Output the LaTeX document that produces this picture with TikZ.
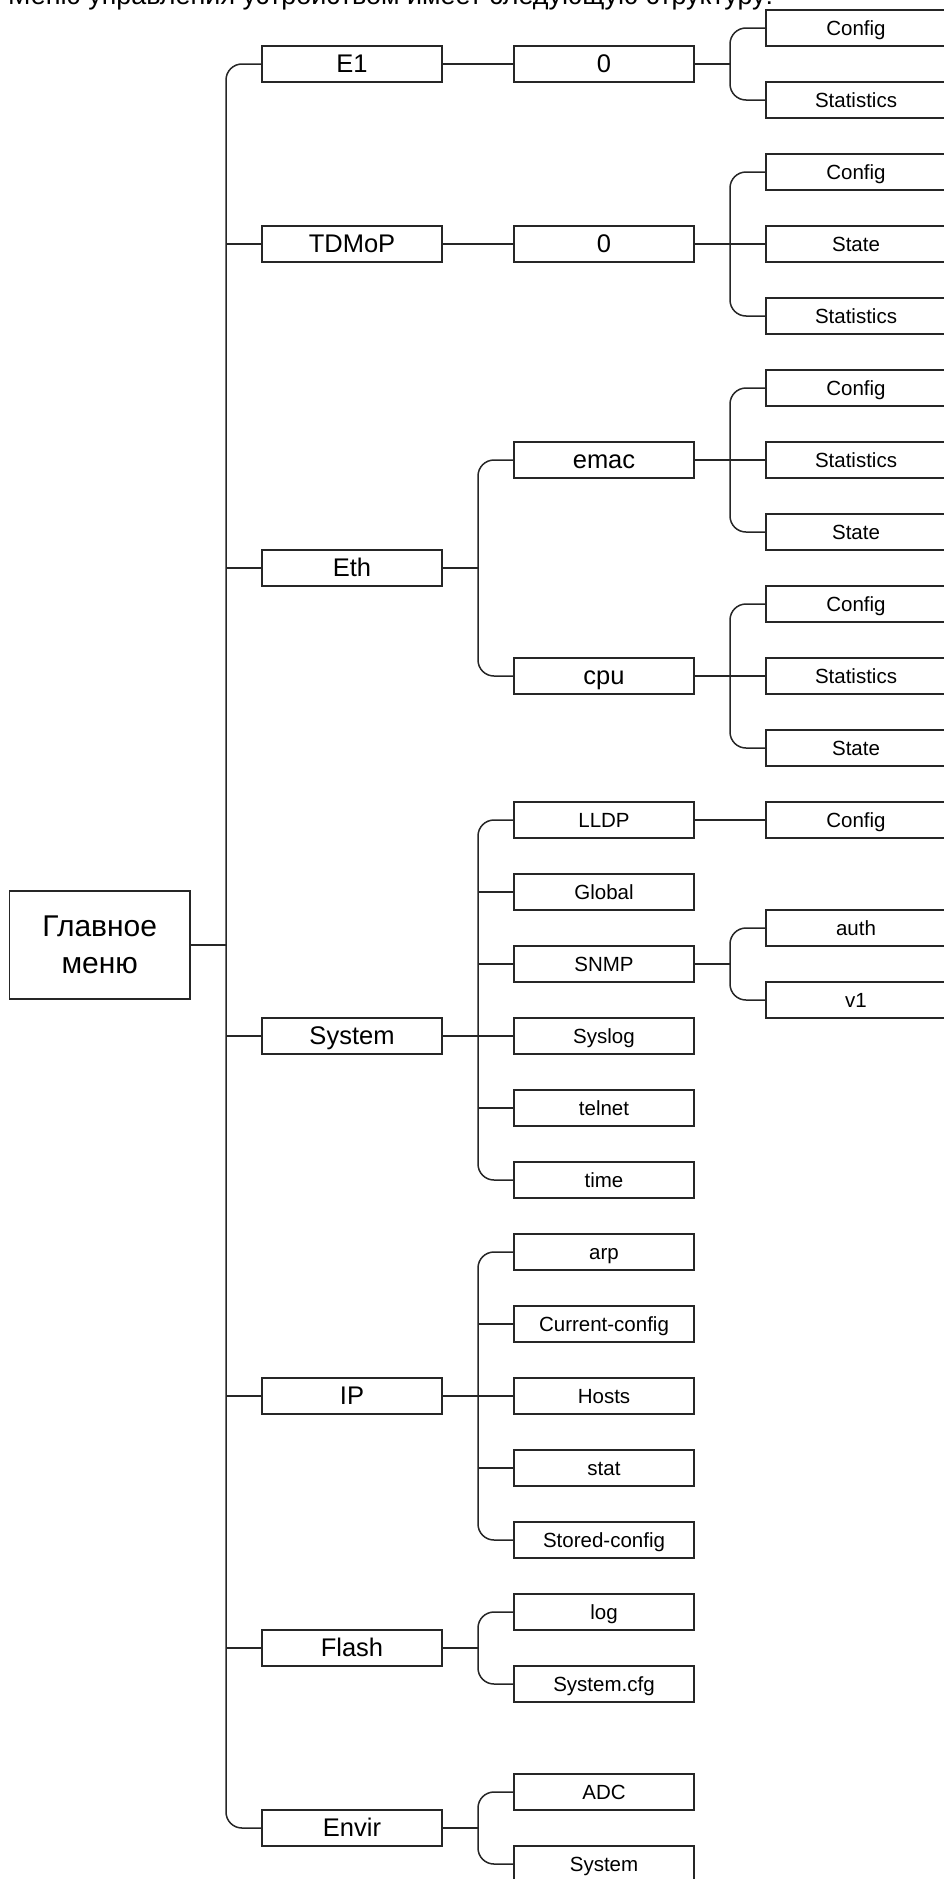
\documentclass[tikz,border=0pt]{standalone}
\usepackage{fontspec}
\setmainfont{Liberation Sans}
\begin{document}
\begin{tikzpicture}[x=1pt,y=-1pt,
  bx/.style={draw=black!85, line width=1.7pt, minimum width=180pt, minimum height=36pt, inner sep=0pt, outer sep=0pt},
  big/.style={bx, font=\fontsize{25.5}{30}\selectfont, text height=23.1pt, text depth=5.4pt},
  small/.style={bx, font=\fontsize{20.5}{24}\selectfont, text height=18.55pt, text depth=4.35pt},
  mainbox/.style={draw=black!85, line width=1.7pt, minimum width=180.5pt, minimum height=107.5pt, inner sep=0pt, outer sep=0pt, align=center, font=\fontsize{30}{37}\selectfont},
  conn/.style={draw=black!85, line width=1.5pt},
  bar/.style={conn, rounded corners=16pt}]
\path[use as bounding box] (0,0) rectangle (944,1879);
\clip (0,0) rectangle (944,1879);

\node[anchor=base west, inner sep=0pt, font=\fontsize{26.9}{30}\selectfont] (title) at (8,5) {Меню управления устройством имеет следующую структуру:};

% main
\node[mainbox] (main) at (99.75,945) {Главное\\меню};

% column 1
\node[big] (E1) at (352,64) {E1};
\node[big] (TDMoP) at (352,244) {TDMoP};
\node[big] (Eth) at (352,568) {Eth};
\node[big] (System) at (352,1036) {System};
\node[big] (IP) at (352,1396) {IP};
\node[big] (Flash) at (352,1648) {Flash};
\node[big] (Envir) at (352,1828) {Envir};

% column 2
\node[big] (e1z) at (604,64) {0};
\node[big] (tdz) at (604,244) {0};
\node[big] (emac) at (604,460) {emac};
\node[big] (cpu) at (604,676) {cpu};
\node[small] (lldp) at (604,820) {LLDP};
\node[small] (global) at (604,892) {Global};
\node[small] (snmp) at (604,964) {SNMP};
\node[small] (syslog) at (604,1036) {Syslog};
\node[small] (telnet) at (604,1108) {telnet};
\node[small] (time) at (604,1180) {time};
\node[small] (arp) at (604,1252) {arp};
\node[small] (curcfg) at (604,1324) {Current-config};
\node[small] (hosts) at (604,1396) {Hosts};
\node[small] (stat) at (604,1468) {stat};
\node[small] (stcfg) at (604,1540) {Stored-config};
\node[small] (log) at (604,1612) {log};
\node[small] (syscfg) at (604,1684) {System.cfg};
\node[small] (adc) at (604,1792) {ADC};
\node[small] (envsys) at (604,1864) {System};

% column 3
\node[small] (e1c) at (856,28) {Config};
\node[small] (e1s) at (856,100) {Statistics};
\node[small] (tdc) at (856,172) {Config};
\node[small] (tds) at (856,244) {State};
\node[small] (tdst) at (856,316) {Statistics};
\node[small] (emc) at (856,388) {Config};
\node[small] (ems) at (856,460) {Statistics};
\node[small] (emst) at (856,532) {State};
\node[small] (cpc) at (856,604) {Config};
\node[small] (cps) at (856,676) {Statistics};
\node[small] (cpst) at (856,748) {State};
\node[small] (llc) at (856,820) {Config};
\node[small] (auth) at (856,928) {auth};
\node[small] (v1) at (856,1000) {v1};

% trunk
\draw[bar] (E1.west) -- ++(-36,0) |- (Envir.west);
\draw[conn] (main.east) -- ++(36,0);
\foreach \n in {TDMoP,Eth,System,IP,Flash} \draw[conn] (\n.west) -- ++(-36,0);

% E1
\draw[conn] (E1.east) -- (e1z.west);
\draw[bar] (e1c.west) -- ++(-36,0) |- (e1s.west);
\draw[conn] (e1z.east) -- ++(36,0);

% TDMoP
\draw[conn] (TDMoP.east) -- (tdz.west);
\draw[bar] (tdc.west) -- ++(-36,0) |- (tdst.west);
\draw[conn] (tdz.east) -- (tds.west);

% Eth
\draw[bar] (emac.west) -- ++(-36,0) |- (cpu.west);
\draw[conn] (Eth.east) -- ++(36,0);
\draw[bar] (emc.west) -- ++(-36,0) |- (emst.west);
\draw[conn] (emac.east) -- (ems.west);
\draw[bar] (cpc.west) -- ++(-36,0) |- (cpst.west);
\draw[conn] (cpu.east) -- (cps.west);

% System
\draw[bar] (lldp.west) -- ++(-36,0) |- (time.west);
\foreach \n in {global,snmp,telnet} \draw[conn] (\n.west) -- ++(-36,0);
\draw[conn] (System.east) -- (syslog.west);
\draw[conn] (lldp.east) -- (llc.west);
\draw[bar] (auth.west) -- ++(-36,0) |- (v1.west);
\draw[conn] (snmp.east) -- ++(36,0);

% IP
\draw[bar] (arp.west) -- ++(-36,0) |- (stcfg.west);
\foreach \n in {curcfg,stat} \draw[conn] (\n.west) -- ++(-36,0);
\draw[conn] (IP.east) -- (hosts.west);

% Flash
\draw[bar] (log.west) -- ++(-36,0) |- (syscfg.west);
\draw[conn] (Flash.east) -- ++(36,0);

% Envir
\draw[bar] (adc.west) -- ++(-36,0) |- (envsys.west);
\draw[conn] (Envir.east) -- ++(36,0);
\end{tikzpicture}
\end{document}
